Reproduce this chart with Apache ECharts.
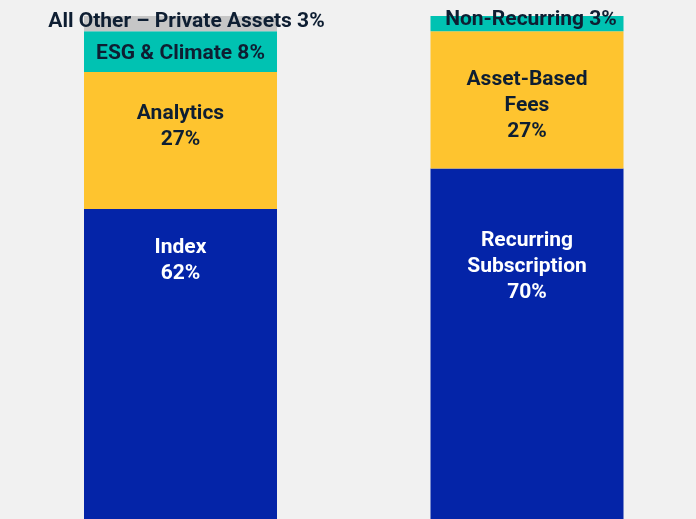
<!DOCTYPE html>
<html>
<head>
<meta charset="utf-8">
<script src="https://cdn.jsdelivr.net/npm/echarts@6/dist/echarts.min.js"></script>
<style>
  html, body { margin: 0; padding: 0; background: #f1f1f1; }
  #chart { width: 696px; height: 519px; }
</style>
</head>
<body>
<div id="chart"></div>
<script>
// two stacked bars, bottom segment first
let categories = ['By product', 'By revenue type']
let leftNames = ['Index', 'Analytics', 'ESG & Climate', 'All Other – Private Assets']
let rightNames = ['Recurring\nSubscription', 'Asset-Based\nFees', 'Non-Recurring']
let leftValues = [62, 27, 8, 3]
let rightValues = [70, 27, 3]

let colors = ['#0424a8', '#fec42f', '#00c2b2', '#c6c6c6']
let textColors = ['#ffffff', '#0e1e32', '#0e1e32', '#0e1e32']
// label nudges (px) per stack level, for [left, right]
let offsets = [[[0, -106], [0, -80]], [[0, -14], [0, 6]], [[0, 2], [4, -4]], [[6, -2], [0, 0]]]

let myChart = echarts.init(document.getElementById('chart'))

let series = []
for (let i = 0; i < leftValues.length; i++) {
    let names = [leftNames[i], rightNames[i]]
    let vals = [leftValues[i], rightValues[i] === undefined ? '-' : rightValues[i]]
    series.push({
        type: 'bar',
        stack: 'total',
        barWidth: 193,
        clip: false,
        itemStyle: { color: colors[i] },
        data: vals.map((v, j) => ({
            value: v,
            label: { offset: offsets[i][j] }
        })),
        label: {
            show: true,
            position: 'inside',
            color: textColors[i],
            fontFamily: 'Roboto',
            fontWeight: 'bold',
            fontSize: 21,
            lineHeight: 26,
            formatter: function (p) {
                let name = names[p.dataIndex]
                if (i < 2) return name + '\n' + p.value + '%'
                return name + ' ' + p.value + '%'
            }
        }
    })
}

let option = {
    animation: false,
    backgroundColor: '#f1f1f1',
    // bars sit on the category ticks (boundaryGap false), so the grid spans bar centre to bar centre
    grid: { left: 180.5, right: 169, top: 16, bottom: 0 },
    xAxis: {
        type: 'category',
        data: categories,
        boundaryGap: false,
        show: false
    },
    yAxis: {
        type: 'value',
        min: 1,   // bars run a little past the bottom edge
        max: 100,
        show: false
    },
    series: series
}
myChart.setOption(option, true)
</script>
</body>
</html>
